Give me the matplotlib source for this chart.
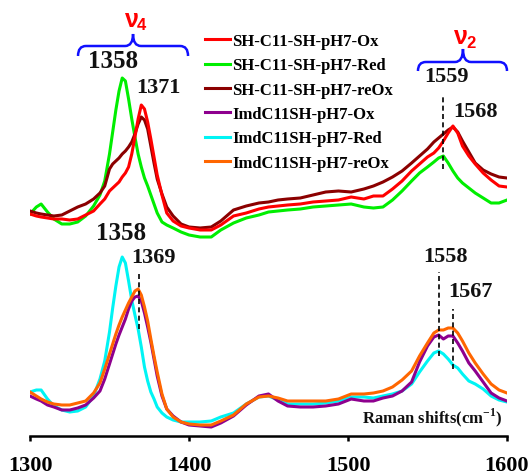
import matplotlib
matplotlib.use("Agg")
import matplotlib.pyplot as plt
import matplotlib.patches as patches
from matplotlib.path import Path

plt.rcParams["mathtext.fontset"] = "custom"
plt.rcParams["mathtext.bf"] = "Liberation Serif:bold"
plt.rcParams["mathtext.rm"] = "Liberation Serif:bold"

# Raman shift axis (cm-1), shared by every spectrum
wavenumber = [1300, 1304, 1307, 1311, 1315, 1320, 1325, 1330, 1335, 1340,
              1344, 1347, 1350, 1352, 1354, 1356, 1358, 1360, 1362, 1364,
              1366, 1368, 1370, 1372, 1374, 1376, 1378, 1380, 1383, 1386,
              1390, 1395, 1400, 1407, 1414, 1420, 1428, 1436, 1444, 1450,
              1456, 1462, 1470, 1478, 1486, 1494, 1502, 1510, 1516, 1522,
              1528, 1534, 1540, 1545, 1550, 1554, 1557, 1560, 1563, 1566,
              1569, 1572, 1576, 1580, 1585, 1590, 1595, 1600]

# upper set (SH-C11-SH), intensities in a.u. before the stacking offset
sh_ox = [27, 25, 24, 23, 22, 22, 21, 22, 26, 30,
         37, 42, 50, 53, 56, 59, 64, 68, 74, 87,
         104, 122, 136, 132, 119, 102, 84, 66, 46, 28,
         20, 15, 13, 11, 11, 16, 25, 28, 32, 34,
         35, 36, 37, 39, 40, 41, 44, 42, 45, 45,
         52, 60, 70, 77, 84, 88, 93, 100, 108, 115,
         108, 95, 85, 77, 68, 61, 55, 54]
sh_red = [27, 34, 37, 29, 22, 17, 17, 19, 25, 35,
          46, 60, 87, 109, 131, 150, 163, 160, 142, 122,
          104, 87, 74, 63, 55, 46, 37, 28, 19, 16,
          13, 9, 6, 4, 4, 11, 18, 23, 26, 29,
          30, 31, 32, 34, 35, 36, 37, 34, 33, 34,
          41, 50, 60, 68, 74, 79, 83, 85, 78, 70,
          63, 58, 53, 48, 43, 38, 38, 41]
sh_reox = [30, 28, 27, 26, 25, 26, 30, 34, 37, 42,
           48, 55, 72, 77, 80, 83, 87, 90, 94, 99,
           107, 117, 124, 121, 112, 95, 78, 62, 47, 34,
           25, 17, 14, 13, 14, 20, 31, 35, 38, 39,
           41, 42, 43, 46, 49, 50, 49, 52, 55, 59,
           64, 70, 78, 85, 92, 99, 103, 107, 111, 114,
           109, 100, 89, 78, 71, 67, 64, 63]

# lower set (ImdC11SH)
imd_ox = [40, 37, 35, 31, 29, 26, 26, 28, 31, 38,
          45, 57, 72, 82, 92, 101, 109, 117, 127, 135,
          139, 140, 135, 123, 109, 94, 77, 60, 40, 27,
          20, 14, 11, 10, 9, 13, 20, 31, 40, 42,
          35, 30, 29, 29, 30, 32, 37, 35, 35, 38,
          40, 45, 54, 74, 90, 99, 101, 97, 100, 100,
          93, 85, 73, 65, 54, 43, 38, 35]
imd_red = [44, 46, 46, 37, 30, 26, 24, 25, 29, 40,
           57, 75, 104, 128, 150, 169, 179, 173, 155, 136,
           121, 107, 89, 69, 55, 44, 37, 29, 23, 19,
           16, 14, 14, 14, 15, 19, 23, 32, 39, 40,
           36, 32, 32, 32, 33, 35, 39, 39, 38, 40,
           42, 45, 52, 64, 75, 83, 85, 82, 77, 71,
           68, 62, 55, 52, 47, 40, 36, 34]
imd_reox = [44, 40, 37, 34, 32, 31, 31, 33, 35, 43,
            53, 67, 82, 92, 102, 111, 119, 126, 133, 139,
            145, 147, 141, 129, 115, 97, 80, 64, 42, 27,
            19, 14, 12, 11, 11, 15, 21, 32, 39, 40,
            38, 35, 35, 35, 35, 37, 42, 42, 43, 45,
            49, 56, 65, 80, 93, 103, 106, 106, 108, 108,
            103, 95, 83, 73, 62, 52, 46, 43]

top_offset = 195

labels = ["SH-C11-SH-pH7-Ox", "SH-C11-SH-pH7-Red", "SH-C11-SH-pH7-reOx",
          "ImdC11SH-pH7-Ox", "ImdC11SH-pH7-Red", "ImdC11SH-pH7-reOx"]
colors = ["#ff0000", "#00ee00", "#8b0000", "#8e008e", "#00f4f4", "#ff6600"]
series = [sh_ox, sh_red, sh_reox, imd_ox, imd_red, imd_reox]
offsets = [top_offset] * 3 + [0] * 3
zorders = [4, 2, 3, 3, 2, 4]

serif = "Liberation Serif"

fig = plt.figure(figsize=(5.31, 4.77), dpi=100)
ax = fig.add_axes([30 / 531, 40 / 477, 477 / 531, 437 / 477])

for ys, off, c, lab, z in zip(series, offsets, colors, labels, zorders):
    ax.plot(wavenumber, [v + off for v in ys], color=c, lw=2.2, label=lab,
            zorder=z, solid_joinstyle="round")

ax.set_xlim(1300, 1600)
ax.set_ylim(0, 437)
for s in ["left", "right", "top"]:
    ax.spines[s].set_visible(False)
ax.spines["bottom"].set_linewidth(1.8)
ax.set_yticks([])
ax.set_xticks([1300, 1400, 1500, 1600])
ax.tick_params(axis="x", direction="out", length=3.5, width=1.8, pad=10.5)
for t in ax.get_xticklabels():
    t.set_fontfamily(serif)
    t.set_fontweight("bold")
    t.set_fontsize(16)

leg = ax.legend(loc="upper left", bbox_to_anchor=(0.367, 0.922), frameon=False,
                prop={"family": serif, "weight": "bold", "size": 12},
                handlelength=1.5, handletextpad=0.15, labelspacing=0.5,
                borderpad=0, borderaxespad=0)
for h in leg.get_lines():
    h.set_linewidth(2.2)

# peak labels
peak_txt = [("1358", 1352.2, 375, 18), ("1371", 1380.5, 349, 16),
            ("1358", 1357.2, 203, 18), ("1369", 1377.4, 179, 16),
            ("1559", 1562, 360, 16), ("1568", 1580.4, 325, 16),
            ("1558", 1561.6, 180, 16), ("1567", 1576.7, 145, 16)]
for s, x, y, fs in peak_txt:
    ax.text(x, y, s, ha="center", va="center", fontsize=fs,
            fontfamily=serif, fontweight="bold", color="#111111")

# dashed markers
dash_lines = [(1560, 267, 342), (1368.4, 107, 162), (1557.2, 80, 164), (1565.8, 67, 127)]
for x, y0, y1 in dash_lines:
    ax.plot([x, x], [y0, y1], color="black", lw=1.2, ls=(0, (3, 2)), zorder=6)


def brace(x0, x1, xm, ylow, ymid, ytop, r=5):
    verts = [(x0, ylow), (x0, ymid), (x0 + r, ymid),
             (xm - r, ymid), (xm, ymid), (xm, ytop),
             (xm, ymid), (xm + r, ymid),
             (x1 - r, ymid), (x1, ymid), (x1, ylow)]
    codes = [Path.MOVETO, Path.CURVE3, Path.CURVE3,
             Path.LINETO, Path.CURVE3, Path.CURVE3,
             Path.CURVE3, Path.CURVE3,
             Path.LINETO, Path.CURVE3, Path.CURVE3]
    ax.add_patch(patches.PathPatch(Path(verts, codes), fill=False,
                                   edgecolor="#1010ff", lw=1.8, clip_on=False))


brace(1330.2, 1399.4, 1364.8, 380, 390, 402)
brace(1544, 1600, 1572.3, 365, 374, 387)

# nu labels: letter plus smaller subscript digit
for x, y, sub in [(1364.0, 417, "4"), (1571.0, 400, "2")]:
    ax.text(x, y, "ν", color="red", fontsize=18, fontweight="bold",
            fontfamily="Liberation Sans", ha="center", va="center")
    ax.text(x + 6.3, y - 6, sub, color="red", fontsize=12, fontweight="bold",
            fontfamily="Liberation Sans", ha="center", va="center")

ax.text(1597, 19, r"Raman shifts(cm$^{\mathbf{-1}}$)", ha="right", va="center",
        fontsize=12, fontfamily=serif, fontweight="bold", color="#111111")

fig.savefig("out.png", dpi=100)
